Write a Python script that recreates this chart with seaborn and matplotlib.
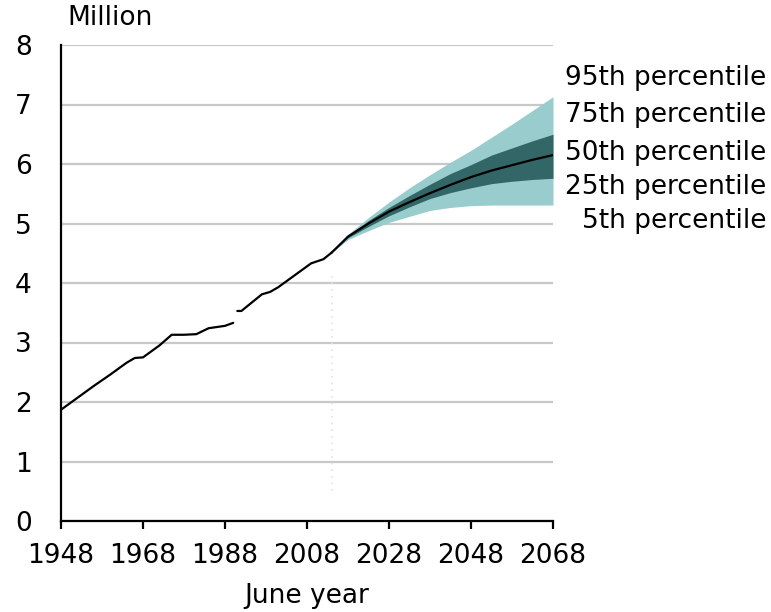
import numpy as np
import pandas as pd
import matplotlib
matplotlib.use("Agg")
import matplotlib.pyplot as plt
import seaborn as sns
from matplotlib.transforms import blended_transform_factory

# ---- data ----
hist_years_a = [1948, 1952, 1956, 1960, 1964, 1966, 1968, 1972, 1975, 1978, 1981, 1984, 1988, 1990]
hist_vals_a = [1.87, 2.07, 2.27, 2.46, 2.66, 2.74, 2.75, 2.95, 3.13, 3.13, 3.14, 3.24, 3.28, 3.33]
hist_years_b = [1991, 1992, 1997, 1999, 2001, 2006, 2009, 2012, 2014]
hist_vals_b = [3.53, 3.53, 3.81, 3.85, 3.93, 4.18, 4.33, 4.40, 4.51]

proj_years = [2014, 2018, 2023, 2028, 2033, 2038, 2043, 2048, 2053, 2058, 2063, 2068]
p95 = [4.51, 4.82, 5.10, 5.36, 5.60, 5.82, 6.03, 6.23, 6.45, 6.67, 6.90, 7.13]
p75 = [4.51, 4.80, 5.05, 5.27, 5.47, 5.66, 5.84, 5.99, 6.15, 6.27, 6.39, 6.50]
p50 = [4.51, 4.78, 5.00, 5.20, 5.36, 5.51, 5.65, 5.78, 5.89, 5.98, 6.07, 6.15]
p25 = [4.51, 4.76, 4.95, 5.13, 5.28, 5.42, 5.52, 5.60, 5.67, 5.71, 5.74, 5.76]
p5 = [4.51, 4.73, 4.88, 5.02, 5.12, 5.22, 5.27, 5.30, 5.31, 5.31, 5.31, 5.31]

pct_labels = ["95th percentile", "75th percentile", "50th percentile",
              "25th percentile", "5th percentile"]
pct_label_y = [7.45, 6.82, 6.18, 5.61, 5.05]

x_ticks = [1948, 1968, 1988, 2008, 2028, 2048, 2068]
y_ticks = [0, 1, 2, 3, 4, 5, 6, 7, 8]

# ---- figure ----
sns.set_theme(style="white")
plt.rcParams['font.family'] = ['DejaVu Sans']

fig = plt.figure(figsize=(7.71, 6.12), dpi=100)
ax = fig.add_axes([61 / 771, 1 - 521 / 612, (553 - 61) / 771, (521 - 45) / 612])

light = "#99cccc"
dark = "#336666"

ax.fill_between(proj_years, p5, p95, color=light, linewidth=0, zorder=2)
ax.fill_between(proj_years, p25, p75, color=dark, linewidth=0, zorder=3)

dfa = pd.DataFrame({"year": hist_years_a, "value": hist_vals_a})
dfb = pd.DataFrame({"year": hist_years_b, "value": hist_vals_b})
dfm = pd.DataFrame({"year": proj_years, "value": p50})
sns.lineplot(data=dfa, x="year", y="value", color="black", linewidth=1.6, ax=ax, zorder=4)
sns.lineplot(data=dfb, x="year", y="value", color="black", linewidth=1.6, ax=ax, zorder=4)
sns.lineplot(data=dfm, x="year", y="value", color="black", linewidth=1.6, ax=ax, zorder=4)

# faint dotted base-year marker
ax.plot([2014, 2014], [0.5, 4.15], color="#e2e2e2", linestyle=(0, (1, 3)), linewidth=1.2, zorder=1)

ax.set_xlim(1948, 2068)
ax.set_ylim(0, 8)
ax.set_xticks(x_ticks)
ax.set_yticks(y_ticks)
ax.set_xticklabels([str(t) for t in x_ticks])
ax.set_yticklabels([str(t) for t in y_ticks])

ax.yaxis.grid(True, color="#c8c8c8", linewidth=1.6, zorder=0)
ax.xaxis.grid(False)
ax.set_axisbelow(True)

for s in ["top", "right"]:
    ax.spines[s].set_visible(False)
for s in ["left", "bottom"]:
    ax.spines[s].set_color("black")
    ax.spines[s].set_linewidth(1.6)
    ax.spines[s].set_zorder(5)

ax.tick_params(axis="x", direction="out", length=6, width=1.6, color="black",
               labelsize=19, pad=10, labelcolor="black", bottom=True)
ax.tick_params(axis="y", length=0, labelsize=19, pad=21, labelcolor="black", left=False)

ax.set_xlabel("June year", fontsize=19, color="black", labelpad=10)
ax.set_ylabel("")

ax.text(0.012, 1.057, "Million", transform=ax.transAxes, fontsize=19,
        ha="left", va="center", color="black")

tr = blended_transform_factory(fig.transFigure, ax.transData)
for lab, yv in zip(pct_labels, pct_label_y):
    ax.text(766 / 771, yv, lab, transform=tr, fontsize=19, ha="right",
            va="center", color="black", clip_on=False)

fig.savefig("out.png", dpi=100)
